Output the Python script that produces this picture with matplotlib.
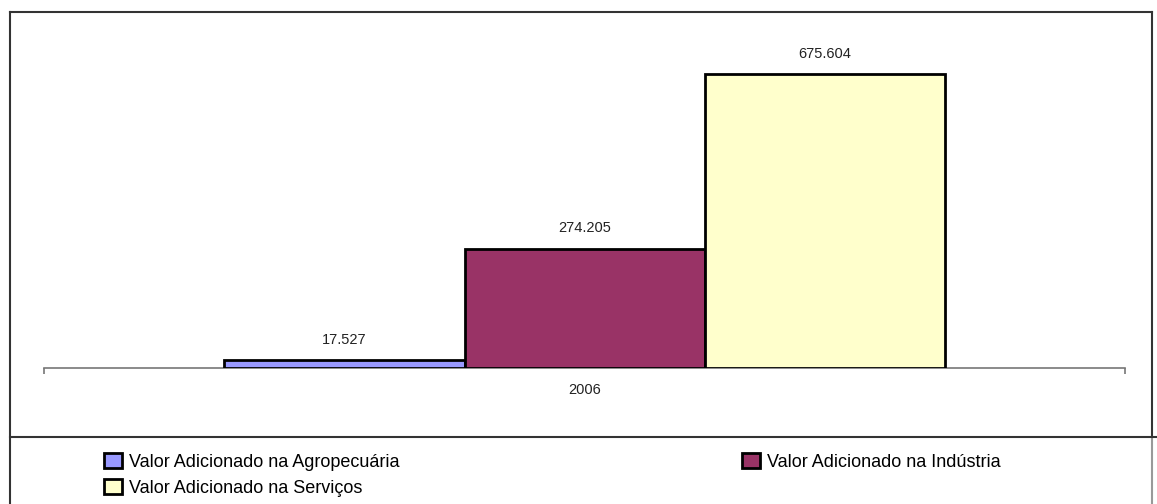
import matplotlib.pyplot as plt
from matplotlib.lines import Line2D
from matplotlib.patches import Patch

plt.rcParams['font.family'] = ['Liberation Sans', 'DejaVu Sans']

# dados
anos = ['2006']
series = ['Valor Adicionado na Agropecuária',
          'Valor Adicionado na Indústria',
          'Valor Adicionado na Serviços']
valores = [17527, 274205, 675604]
rotulos = ['17.527', '274.205', '675.604']
cores = ['#9999FF', '#993366', '#FFFFCC']

W, H = 1157, 504
fig = plt.figure(figsize=(W / 100, H / 100), dpi=100)

# area do grafico em pixels
x0, x1, yb, yt = 44, 1125, 368, 30
ax = fig.add_axes([x0 / W, 1 - yb / H, (x1 - x0) / W, (yb - yt) / H])

largura = 1.0
offs = [-1, 0, 1]
for s, v, r, c, o in zip(series, valores, rotulos, cores, offs):
    ax.bar(o * largura, v, width=largura, color=c, edgecolor='black',
           linewidth=2, label=s, zorder=3)
    ax.text(o * largura, v + 0.045 * max(valores), r, ha='center', va='bottom',
            fontsize=10.5, color='#222222')

meia = (x1 - x0) / 240 / 2
ax.set_xlim(-meia, meia)
ax.set_ylim(0, max(valores) * (yb - yt) / (368 - 74))

for sp in ['top', 'left', 'right']:
    ax.spines[sp].set_visible(False)
ax.spines['bottom'].set_color('#777777')
ax.spines['bottom'].set_linewidth(1.2)
ax.set_yticks([])
ax.set_xticks([0])
ax.set_xticklabels(anos, fontsize=10.5, color='#222222')
ax.tick_params(axis='x', which='major', length=0, pad=11)
ax.set_xticks([-meia, meia], minor=True)
ax.tick_params(axis='x', which='minor', length=4, width=1.2, color='#777777',
               direction='out')

# moldura
def linha(xs, ys, cor='#333333', lw=1.5):
    fig.add_artist(Line2D([x / W for x in xs], [1 - y / H for y in ys],
                          color=cor, linewidth=lw, transform=fig.transFigure))

linha([10, 1152], [12, 12])
linha([10, 10], [12, 504])
linha([1152, 1152], [12, 437])
linha([1152, 1152], [437, 504], cor='#999999')
linha([10, 1157], [437, 437])

# legenda (preenchida por linhas: Agro, Indústria / Serviços)
handles = [Patch(facecolor=c, edgecolor='black', linewidth=2) for c in cores]
ordem = [0, 2, 1]
leg = fig.legend([handles[i] for i in ordem], [series[i] for i in ordem],
                 ncol=2, loc='upper left',
                 bbox_to_anchor=(88 / W, 1 - 437 / H), frameon=False,
                 fontsize=13, handlelength=1.0, handleheight=0.9,
                 handletextpad=0.35, columnspacing=19, labelspacing=0.45)

fig.savefig('out.png', dpi=100)
